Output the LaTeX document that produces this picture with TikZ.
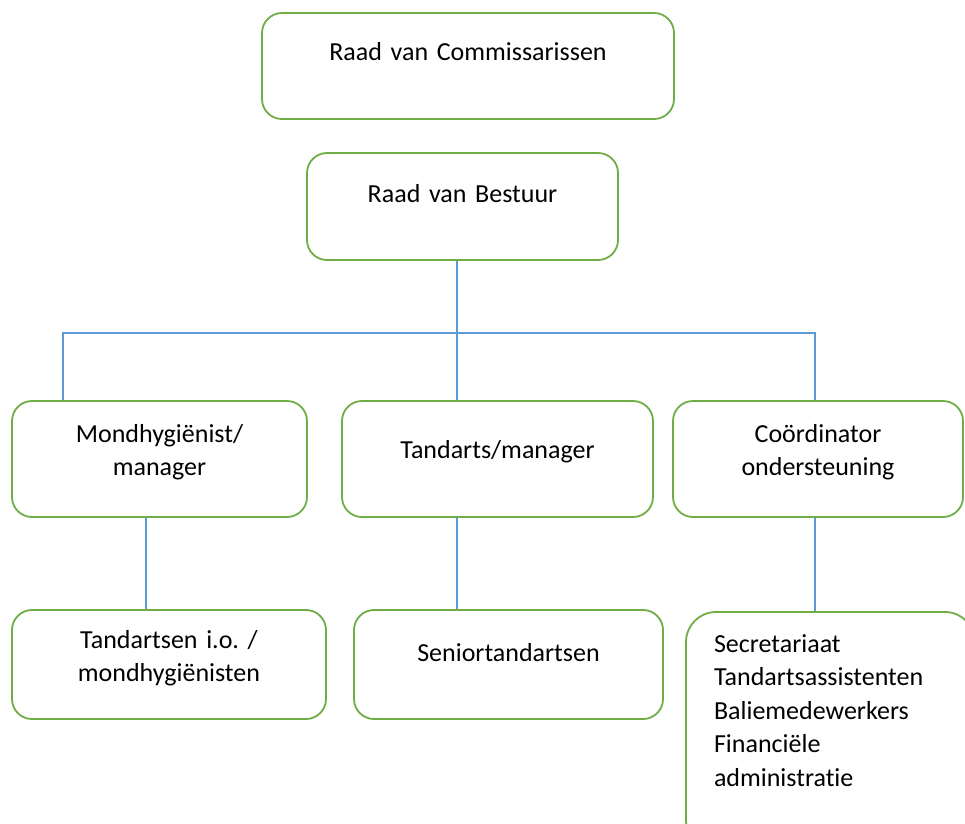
\documentclass[tikz,border=0pt]{standalone}
\usepackage{fontspec}
\setmainfont{Carlito}[Ligatures=NoCommon]
\usepackage{tikz}
\usetikzlibrary{arrows.meta, positioning, calc}
\usepackage{xcolor}
\definecolor{boxgreen}{RGB}{112,173,71}
\definecolor{linkblue}{RGB}{91,155,213}
\frenchspacing

\tikzset{
  orgbox/.style={draw=boxgreen, line width=1.8pt, rounded corners=20pt,
    inner xsep=0pt, inner ysep=0pt, align=center,
    font=\fontsize{26}{33.5}\selectfont},
  link/.style={draw=linkblue, line width=1.2pt}
}

\begin{document}
\begin{tikzpicture}[x=1pt, y=-1pt]
  \useasboundingbox (0,0) rectangle (965,823);
  \clip (0,0) rectangle (965,823);
  \node[orgbox, text width=412pt, text height=47pt, text depth=59pt] (comm) at (468,66) {Raad van Commissarissen};
  \node[orgbox, text width=311pt, text height=49pt, text depth=58pt] (bestuur) at (462.5,206.5) {Raad van Bestuur};
  \node[orgbox, text width=295pt, text height=41pt, text depth=75pt] (mondh) at (159.5,459) {Mondhygiënist/\\manager};
  \node[orgbox, text width=311pt, text height=57pt, text depth=59pt] (tandarts) at (497.5,459) {Tandarts/manager};
  \node[orgbox, text width=290pt, text height=41pt, text depth=75pt] (coord) at (818,459) {Coördinator\\ondersteuning};
  \node[orgbox, text width=314pt, text height=38pt, text depth=71pt] (junior) at (169,664.5) {Tandartsen i.o. /\\mondhygiënisten};
  \node[orgbox, text width=309pt, text height=51pt, text depth=58pt] (senior) at (508.5,664.5) {Seniortandartsen};
  \node[orgbox, rounded corners=30pt, align=left, inner xsep=28pt, text width=233pt, text height=40pt, text depth=198pt] (support) at (830.5,731)
    {Secretariaat\\Tandartsassistenten\\Baliemedewerkers\\Financiële\\administratie};
  \coordinate (hub) at (457,333);
  \coordinate (busL) at (63,333);
  \coordinate (busR) at (815,333);
  \coordinate (dropA) at (146,560);
  \coordinate (dropC) at (815,560);
  \draw[link] (bestuur.south -| hub) -- (hub);
  \draw[link] (mondh.north -| busL) -- (busL) -- (busR) -- (coord.north -| busR);
  \draw[link] (hub) -- (tandarts.north -| hub);
  \draw[link] (mondh.south -| dropA) -- (junior.north -| dropA);
  \draw[link] (tandarts.south -| hub) -- (senior.north -| hub);
  \draw[link] (coord.south -| dropC) -- (support.north -| dropC);
\end{tikzpicture}
\end{document}
